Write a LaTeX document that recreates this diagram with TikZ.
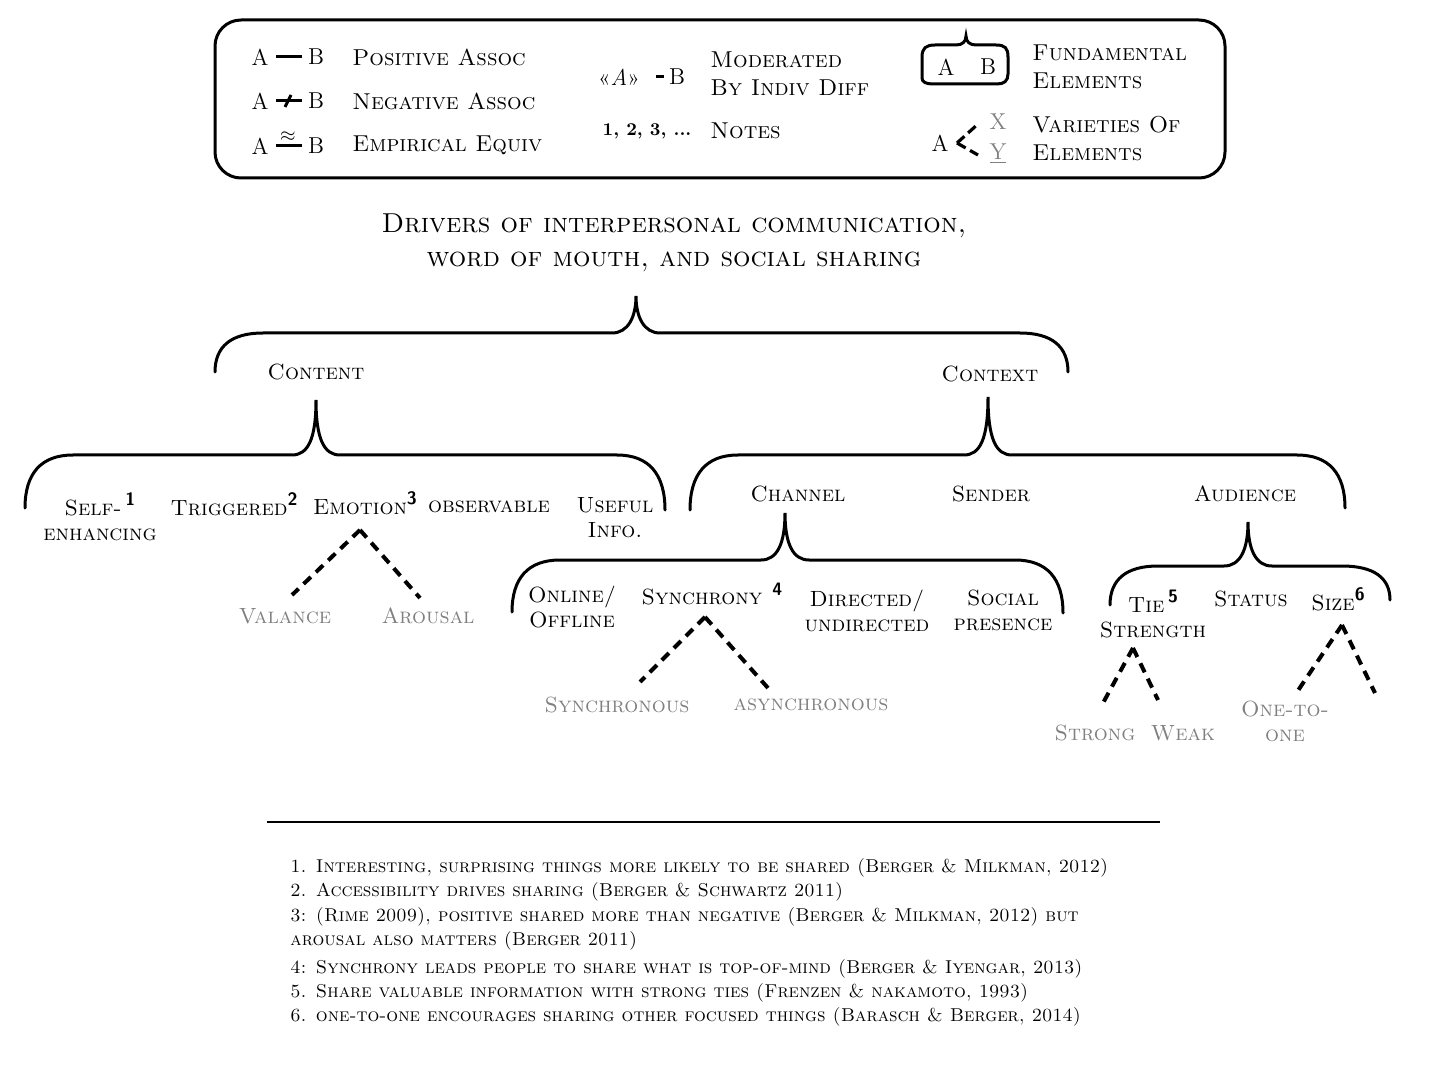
\documentclass[tikz,border=0pt]{standalone}
\usetikzlibrary{calc}

% little bold sans note marks
\newcommand{\fnmark}[1]{\raisebox{0.85ex}{\fontsize{9}{9}\selectfont\sffamily\bfseries #1}}

% brace: left end, tip, right end, depth of the bar below the tip (px)
\newcommand{\groupbrace}[4]{%
	\draw[brace] let \p1=(#1), \p2=(#2), \p3=(#3), \p4=($(#2)+(0,#4)$) in
	(\p1) .. controls (\x1,{\y4+0.35*(\y1-(\y4))}) and ({\x1+8pt},\y4) .. ({\x1+24pt},\y4)
	-- ({\x2-12pt},\y4) .. controls ({\x2-4pt},\y4) and (\x2,{\y4+8pt}) .. (\p2)
	.. controls (\x2,{\y4+8pt}) and ({\x2+4pt},\y4) .. ({\x2+12pt},\y4)
	-- ({\x3-24pt},\y4) .. controls ({\x3-8pt},\y4) and (\x3,{\y4+0.35*(\y3-(\y4))}) .. (\p3);}

\tikzset{
	lbl/.style = {font=\fontsize{11}{12.5}\selectfont\scshape, align=center, inner sep=1pt},
	variety/.style = {lbl, text=black!50},
	titletext/.style = {font=\fontsize{13.7}{17}\selectfont\scshape, align=center, inner sep=1pt},
	legendtext/.style = {font=\fontsize{11.5}{14}\selectfont\scshape, align=left, anchor=west, inner sep=1pt},
	legendsym/.style = {font=\fontsize{11.5}{14}\selectfont, inner sep=1pt},
	brace/.style = {line width=1.5pt, line cap=round},
	branch/.style = {line width=2pt, dash pattern=on 5pt off 3.5pt},
	assoc/.style = {line width=1.5pt, shorten <=2.5pt, shorten >=2pt},
	notetext/.style = {font=\fontsize{9.3}{11}\selectfont\scshape, anchor=base west, inner sep=0pt}
}

\begin{document}
\begin{tikzpicture}[x=0.5pt, y=-0.5pt]
	\fill[white] (0,0) rectangle (1440,1080);
	\useasboundingbox (0,0) rectangle (1440,1080);
	
	% legend
	\draw[line width=1.5pt, rounded corners=13pt] (215,20) rectangle (1225,178);
	\node[legendsym] (pa1) at (260,57)  {A};
	\node[legendsym] (pb1) at (316,57)  {B};
	\node[legendsym] (pa2) at (260,101) {A};
	\node[legendsym] (pb2) at (316,101) {B};
	\node[legendsym] (pa3) at (260,146) {A};
	\node[legendsym] (pb3) at (316,146) {B};
	\draw[assoc] (pa1) -- (pb1);
	\draw[assoc] (pa2) -- (pb2);
	\draw[line width=1.5pt] ($(pa2)!0.5!(pb2)+(-3,6)$) -- +(6,-12);
	\draw[assoc] (pa3) -- (pb3);
	\node[legendsym, font=\fontsize{10}{10}\selectfont] (approx) at ($(pa3)!0.5!(pb3)+(0,-9)$) {$\approx$};
	\node[legendtext] (pos) at (350,57)  {Positive Assoc};
	\node[legendtext] (neg) at (350,101) {Negative Assoc};
	\node[legendtext] (emp) at (350,145) {Empirical Equiv};
	
	\node[legendsym] (pmod)  at (619,77) {«\textit{A}»};
	\node[legendsym] (pmodb) at (677,77) {B};
	\draw[assoc, shorten <=7pt, shorten >=1.5pt] (pmod) -- (pmodb);
	\node[legendtext] (moder) at (708,74)  {Moderated\\By Indiv Diff};
	\node[legendsym, font=\fontsize{9}{9}\selectfont\bfseries] (nums) at (647,131) {1, 2, 3, ...};
	\node[legendtext] (notes) at (708,131) {Notes};
	
	\draw[brace] (922,78) -- (922,57) .. controls (922,48) and (926,45) .. (935,45) -- (956,45)
	.. controls (962,45) and (966,42) .. (966,36) .. controls (966,42) and (970,45) .. (976,45)
	-- (996,45) .. controls (1005,45) and (1008,48) .. (1008,57) -- (1008,74)
	.. controls (1008,81) and (1004,84) .. (997,84) -- (933,84) .. controls (926,84) and (922,82) .. (922,78);
	\node[legendsym] (fa) at (946,67) {A};
	\node[legendsym] (fb) at (988,67) {B};
	\node[legendtext] (fund) at (1030,67) {Fundamental\\Elements};
	\node[legendsym] (pva) at (940,143) {A};
	\node[legendsym, text=black!50] (px) at (998,122) {X};
	\node[legendsym, text=black!50] (py) at (998,154) {\underline{Y}};
	\draw[branch, line width=1.6pt, dash pattern=on 5pt off 2.5pt] ($(pva)+(17,0)$) -- ($(px)+(-20,2)$);
	\draw[branch, line width=1.6pt, dash pattern=on 5pt off 2.5pt] ($(pva)+(17,0)$) -- ($(py)+(-20,1)$);
	\node[legendtext] (vari) at (1030,139) {Varieties Of\\Elements};
	
	% title
	\node[titletext] (title) at (674,243) {Drivers of interpersonal communication,\\word of mouth, and social sharing};
	
	% first level
	\node[lbl] (content) at (316,372) {Content};
	\node[lbl] (context) at (990,374) {Context};
	\coordinate (top-l) at (215,372);
	\coordinate (top-t) at (636,296);
	\coordinate (top-r) at (1068,372);
	\groupbrace{top-l}{top-t}{top-r}{37}
	
	% content
	\node[lbl] (self)       at (100,517) {Self-\,\fnmark{1}\\enhancing};
	\node[lbl] (triggered)  at (234,504) {Triggered\fnmark{2}};
	\node[lbl] (emotion)    at (365,503) {Emotion\fnmark{3}};
	\node[lbl] (observable) at (489,507) {observable};
	\node[lbl] (useful)     at (615,518) {Useful\\Info.};
	\coordinate (content-l) at (25,508);
	\coordinate (content-t) at (316,400);
	\coordinate (content-r) at (665,510);
	\groupbrace{content-l}{content-t}{content-r}{55}
	
	\node[variety] (valance) at (285,616) {Valance};
	\node[variety] (arousal) at (428,616) {Arousal};
	\draw[branch] ($(emotion)+(-5,27)$) -- ($(valance)+(7,-21)$);
	\draw[branch] ($(emotion)+(-5,27)$) -- ($(arousal)+(-8,-18)$);
	
	% context
	\node[lbl] (channel)  at (798,494)  {Channel};
	\node[lbl] (sender)   at (991,494)  {Sender};
	\node[lbl] (audience) at (1245,494) {Audience};
	\coordinate (context-l) at (690,510);
	\coordinate (context-t) at (988,397);
	\coordinate (context-r) at (1345,508);
	\groupbrace{context-l}{context-t}{context-r}{58}
	
	% channel
	\node[lbl] (online)    at (572,607)  {Online/\\Offline};
	\node[lbl] (synchrony) at (712,594)  {Synchrony\hspace{5pt}\fnmark{4}};
	\node[lbl] (directed)  at (867,611)  {Directed/\\undirected};
	\node[lbl] (social)    at (1003,610) {Social\\presence};
	\coordinate (channel-l) at (512,612);
	\coordinate (channel-t) at (785,513);
	\coordinate (channel-r) at (1063,613);
	\groupbrace{channel-l}{channel-t}{channel-r}{47}
	
	\node[variety] (synchronous)  at (617,705) {Synchronous};
	\node[variety] (asynchronous) at (811,705) {asynchronous};
	\draw[branch] ($(synchrony)+(-7,23)$) -- ($(synchronous)+(23,-23)$);
	\draw[branch] ($(synchrony)+(-7,23)$) -- ($(asynchronous)+(-43,-17)$);
	
	% audience
	\node[lbl] (tie)    at (1153,614) {Tie\,\fnmark{5}\\Strength};
	\node[lbl] (status) at (1251,599) {Status};
	\node[lbl] (size)   at (1338,599) {Size\fnmark{6}};
	\coordinate (audience-l) at (1110,605);
	\coordinate (audience-t) at (1248,522);
	\coordinate (audience-r) at (1390,600);
	\groupbrace{audience-l}{audience-t}{audience-r}{44}
	
	\node[variety] (strong)   at (1095,733) {Strong};
	\node[variety] (weak)     at (1183,733) {Weak};
	\node[variety] (onetoone) at (1285,721) {One-to-\\one};
	\coordinate (size-r) at (1375,693);
	\draw[branch] ($(tie)+(-20,34)$) -- ($(strong)+(8,-30)$);
	\draw[branch] ($(tie)+(-20,34)$) -- ($(weak)+(-25,-33)$);
	\draw[branch] ($(size)+(4,26)$) -- ($(onetoone)+(12,-29)$);
	\draw[branch] ($(size)+(4,26)$) -- (size-r);
	
	% notes
	\draw[line width=0.6pt] (267,822) -- (1160,822);
	\node[notetext] (note1)  at (290,872)  {1. Interesting, surprising things more likely to be shared (Berger \& Milkman, 2012)};
	\node[notetext] (note2)  at (290,896)  {2. Accessibility drives sharing (Berger \& Schwartz 2011)};
	\node[notetext] (note3)  at (290,921)  {3: (Rime 2009), positive shared more than negative (Berger \& Milkman, 2012) but};
	\node[notetext] (note3b) at (290,945)  {arousal also matters (Berger 2011)};
	\node[notetext] (note4)  at (290,973)  {4: Synchrony leads people to share what is top-of-mind (Berger \& Iyengar, 2013)};
	\node[notetext] (note5)  at (290,997)  {5. Share valuable information with strong ties (Frenzen \& nakamoto, 1993)};
	\node[notetext] (note6)  at (290,1021) {6. one-to-one encourages sharing other focused things (Barasch \& Berger, 2014)};
\end{tikzpicture}
\end{document}
